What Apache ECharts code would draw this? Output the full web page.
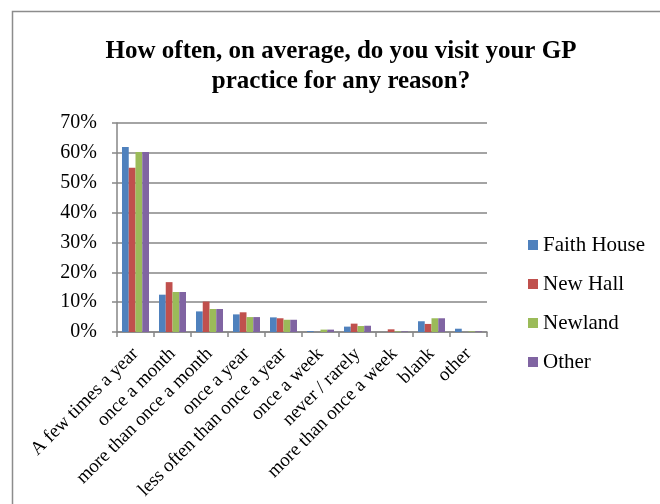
<!DOCTYPE html>
<html>
<head>
<meta charset="utf-8">
<script src="https://cdn.jsdelivr.net/npm/echarts@6/dist/echarts.min.js"></script>
<style>
  html, body { margin: 0; padding: 0; background: #fff; }
  #chart { width: 660px; height: 504px; }
</style>
</head>
<body>
<div id="chart"></div>
<script>
// Survey answers: share of respondents per practice (percent)
const categories = [
  'A few times a year', 'once a month', 'more than once a month', 'once a year',
  'less often than once a year', 'once a week', 'never / rarely',
  'more than once a week', 'blank', 'other'
];
const faithHouse = [62.0, 12.5, 6.9, 5.9, 4.9, 0.3, 1.8, 0.0, 3.6, 1.1];
const newHall    = [55.0, 16.7, 10.2, 6.6, 4.6, 0.0, 2.8, 0.9, 2.7, 0.0];
const newland    = [60.3, 13.4, 7.7, 5.0, 4.1, 0.8, 2.0, 0.2, 4.6, 0.2];
const other      = [60.3, 13.4, 7.7, 5.0, 4.1, 0.8, 2.1, 0.2, 4.6, 0.2];
const seriesNames = ['Faith House', 'New Hall', 'Newland', 'Other'];
const seriesColors = ['#4F81BD', '#C0504D', '#9BBB59', '#8064A2'];

const serif = '"Liberation Serif", "Times New Roman", serif';
const axisGray = '#868686';

const chart = echarts.init(document.getElementById('chart'), null, { renderer: 'canvas' });

const seriesData = [faithHouse, newHall, newland, other];

chart.setOption({
  backgroundColor: '#fff',
  animation: false,
  title: {
    text: 'How often, on average, do you visit your GP\npractice for any reason?',
    left: 336,
    top: 32,
    textAlign: 'center',
    textStyle: {
      fontFamily: serif,
      fontWeight: 'bold',
      fontSize: 25,
      lineHeight: 30,
      color: '#000'
    }
  },
  graphic: [{
    type: 'rect',
    shape: { x: 12.5, y: 11.5, width: 700, height: 600 },
    style: { fill: 'none', stroke: '#8c8c8c', lineWidth: 1.5 },
    silent: true
  }],
  legend: {
    orient: 'vertical',
    left: 528,
    top: 234,
    padding: 0,
    icon: 'rect',
    itemWidth: 10,
    itemHeight: 10,
    itemGap: 17,
    textStyle: { fontFamily: serif, fontSize: 21, color: '#000', lineHeight: 22 },
    data: seriesNames
  },
  grid: {
    left: 117,
    right: 173,
    top: 123,
    bottom: 172,
    containLabel: false
  },
  xAxis: {
    type: 'category',
    data: categories,
    axisLine: { lineStyle: { color: axisGray, width: 1.5 } },
    axisTick: { show: true, alignWithLabel: false, length: 5, lineStyle: { color: axisGray, width: 1.5 } },
    axisLabel: {
      interval: 0,
      rotate: 45,
      margin: 19,
      fontFamily: serif,
      fontSize: 19,
      color: '#000'
    }
  },
  yAxis: {
    type: 'value',
    min: 0,
    max: 70,
    interval: 10,
    axisLine: { show: true, lineStyle: { color: axisGray, width: 1.5 } },
    axisTick: { show: true, length: 5, lineStyle: { color: axisGray, width: 1.5 } },
    splitLine: { show: true, lineStyle: { color: axisGray, width: 1.5 } },
    axisLabel: {
      formatter: '{value}%',
      margin: 20,
      fontFamily: serif,
      fontSize: 20,
      color: '#000'
    }
  },
  series: seriesNames.map((name, i) => ({
    name: name,
    type: 'bar',
    data: seriesData[i],
    barGap: '0%',
    barCategoryGap: '27%',
    itemStyle: { color: seriesColors[i] }
  }))
});
</script>
</body>
</html>
